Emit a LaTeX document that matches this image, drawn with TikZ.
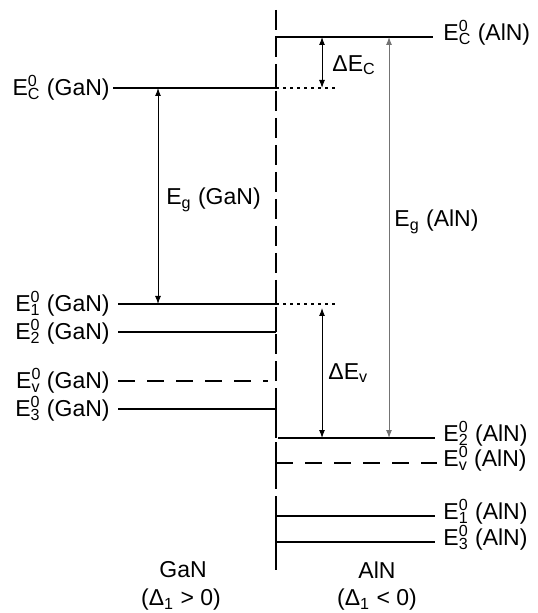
\documentclass[tikz,border=0pt]{standalone}
\usepackage{fontspec}
\setmainfont{Liberation Sans}
\usepackage{tikz}
\usetikzlibrary{positioning, arrows.meta}
\newcommand{\lev}[2]{E\rlap{\textsuperscript{#1}}\textsubscript{#2}}
\tikzset{
    bandthick/.style={line width=1.1pt, black},
    bandthin/.style={line width=0.6pt, black},
    banddash/.style={line width=1pt, black, dash pattern=on 8.5pt off 6pt},
    iface/.style={line width=1pt, black, dash pattern=on 10pt off 3.5pt},
    itick/.style={line width=1pt, black},
    guide/.style={line width=0.6pt, black, dash pattern=on 1.5pt off 2pt},
    gap/.style={{Latex[length=4pt, width=3pt]}-{Latex[length=4pt, width=3pt]}, line width=0.5pt, black},
    lvl/.style={font=\fontsize{11.5}{13}\selectfont, inner sep=0pt},
    side/.style={font=\fontsize{11.5}{13}\selectfont, inner sep=0pt}
}
\begin{document}
\begin{tikzpicture}[x=0.5pt, y=-0.5pt]
        \useasboundingbox (0,0) rectangle (537,613);
        % Interface between the two layers
        \coordinate (itop) at (276,10);
        \coordinate (ibot) at (276,572);
        \draw[iface] (itop) -- (ibot);

        % GaN levels
        \coordinate (lcGaN) at (113,88);   \coordinate (jcGaN) at (276,88);
        \coordinate (loneGaN) at (118,304); \coordinate (joneGaN) at (276,304);
        \coordinate (ltwoGaN) at (118,332); \coordinate (jtwoGaN) at (276,332);
        \coordinate (lvGaN) at (118,381);   \coordinate (jvGaN) at (268,381);
        \coordinate (lthrGaN) at (118,409); \coordinate (jthrGaN) at (276,409);
        \draw[bandthick] (lcGaN) -- (jcGaN);
        \draw[bandthick] (loneGaN) -- (joneGaN);
        \draw[bandthin] (ltwoGaN) -- (jtwoGaN);
        \draw[banddash] (lvGaN) -- (jvGaN);
        \draw[bandthin] (lthrGaN) -- (jthrGaN);
        \node[lvl, left=1.5pt of lcGaN] (cGaN) {\lev{0}{C} (GaN)};
        \node[lvl, left=4pt of loneGaN] (oneGaN) {\lev{0}{1} (GaN)};
        \node[lvl, left=4pt of ltwoGaN] (twoGaN) {\lev{0}{2} (GaN)};
        \node[lvl, left=4pt of lvGaN] (vGaN) {\lev{0}{v} (GaN)};
        \node[lvl, left=4pt of lthrGaN] (thrGaN) {\lev{0}{3} (GaN)};

        % AlN levels
        \coordinate (tcAlN) at (276,52);
        \coordinate (jcAlN) at (276,37);    \coordinate (rcAlN) at (433,37);
        \coordinate (jtwoAlN) at (278,438); \coordinate (rtwoAlN) at (435,438);
        \coordinate (jvAlN) at (276,463);   \coordinate (rvAlN) at (437,463);
        \coordinate (joneAlN) at (276,516); \coordinate (roneAlN) at (435,516);
        \coordinate (jthrAlN) at (276,542); \coordinate (rthrAlN) at (435,542);
        \draw[bandthick] (tcAlN) -- (jcAlN) -- (rcAlN);
        \draw[bandthick] (jtwoAlN) -- (rtwoAlN);
        \draw[banddash, line width=0.8pt] (jvAlN) -- (rvAlN);
        \draw[bandthin] (joneAlN) -- (roneAlN);
        \draw[bandthin] (jthrAlN) -- (rthrAlN);
        \node[lvl, right=5pt of rcAlN, yshift=2pt] (cAlN) {\lev{0}{C} (AlN)};
        \node[lvl, right=4pt of rtwoAlN, yshift=2pt] (twoAlN) {\lev{0}{2} (AlN)};
        \node[lvl, right=3pt of rvAlN, yshift=2pt] (vAlN) {\lev{0}{v} (AlN)};
        \node[lvl, right=4pt of roneAlN, yshift=2pt] (oneAlN) {\lev{0}{1} (AlN)};
        \node[lvl, right=4pt of rthrAlN, yshift=2pt] (thrAlN) {\lev{0}{3} (AlN)};

        % Solid pieces of the interface where the levels meet it
        \foreach \jn in {jcGaN, joneGaN, jtwoGaN, jtwoAlN}
            \draw[itick] (\jn -| itop) -- ++(0,-10);
        \foreach \jn in {jthrGaN, jvAlN, joneAlN, jthrAlN}
            \draw[itick] (\jn -| itop) ++(0,-8) -- ++(0,16);

        % Dotted continuations of the GaN levels
        \coordinate (gcEnd) at (336,88);
        \coordinate (goneEnd) at (336,304);
        \draw[guide] (jcGaN) -- (gcEnd);
        \draw[guide] (joneGaN) -- (goneEnd);

        % Gaps and offsets
        \coordinate (dEcTop) at (322,37);  \coordinate (dEcBot) at (322,88);
        \coordinate (gGaNTop) at (158,88); \coordinate (gGaNBot) at (158,304);
        \coordinate (gAlNTop) at (389,37); \coordinate (gAlNBot) at (389,438);
        \coordinate (dEvTop) at (322,308); \coordinate (dEvBot) at (322,438);
        \draw[gap] (dEcTop) -- (dEcBot);
        \draw[gap] (gGaNTop) -- (gGaNBot);
        \draw[gap, black!55] (gAlNTop) -- (gAlNBot);
        \draw[gap] (dEvTop) -- (dEvBot);
        \node[lvl, anchor=west] (dEc) at (332,65) {ΔE\textsubscript{C}};
        \node[lvl, anchor=west] (gGaN) at (166,200) {E\textsubscript{g} (GaN)};
        \node[lvl, anchor=west] (gAlN) at (394,222) {E\textsubscript{g} (AlN)};
        \node[lvl, anchor=west] (dEv) at (328,373) {ΔE\textsubscript{v}};

        % Layer names
        \node[side] (ganName) at (183,570) {GaN};
        \node[side] (ganSign) at (181,600) {(Δ\textsubscript{1} > 0)};
        \node[side] (alnName) at (377,570) {AlN};
        \node[side] (alnSign) at (377,600) {(Δ\textsubscript{1} < 0)};
    \end{tikzpicture}
\end{document}
